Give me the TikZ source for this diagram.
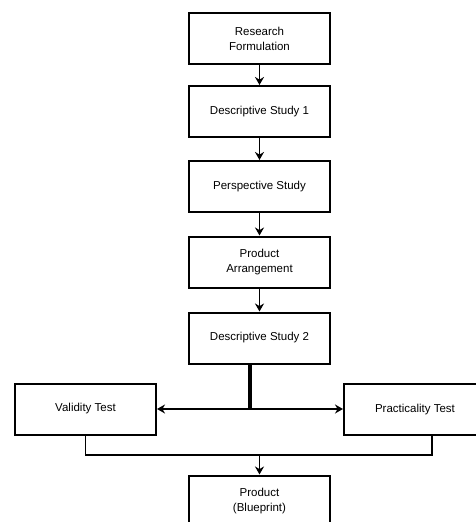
\documentclass[tikz,border=0pt]{standalone}
\usepackage{fontspec}
\setmainfont{Liberation Sans}
\usetikzlibrary{arrows.meta}
\tikzset{
  stage/.style={draw,line width=2pt,minimum width=141pt,minimum height=51pt,
    inner sep=0pt,align=center,font=\fontsize{11.5}{15}\selectfont},
  flow/.style={line width=1.7pt,-{Stealth[length=8pt,width=9pt]}}
}
\begin{document}
\begin{tikzpicture}[x=1pt,y=-1pt]
\useasboundingbox (0,0) rectangle (476,522);
\clip (0,0) rectangle (476,522);
\node[stage] (research) at (259.5,38.5) {Research\\Formulation};
\node[stage] (desc1) at (259.5,111.5) {Descriptive Study 1};
\node[stage] (perspective) at (259.5,186.5) {Perspective Study};
\node[stage] (arrangement) at (259.5,262) {Product\\Arrangement};
\node[stage] (desc2) at (259.5,338) {Descriptive Study 2};
\node[stage] (validity) at (85.5,409) {Validity Test};
\node[stage,minimum width=142pt] (practicality) at (415,409.5) {Practicality Test};
\node[stage] (product) at (259.5,501) {Product\\(Blueprint)};
\coordinate (split) at (250,409);
\coordinate (merge) at (259.5,455);
\coordinate (tap) at (432,455);
\draw[flow] (research) -- (desc1);
\draw[flow] (desc1) -- (perspective);
\draw[flow] (perspective) -- (arrangement);
\draw[flow] (arrangement) -- (desc2);
\draw[line width=3.5pt] (desc2.south -| split) -- (split);
\draw[flow] (split) -- (validity.east);
\draw[flow] (split) -- (practicality.west |- split);
\draw[line width=1.7pt] (validity.south) |- (tap) -- (tap |- practicality.south);
\draw[flow] (merge) -- (product.north);
\end{tikzpicture}
\end{document}
